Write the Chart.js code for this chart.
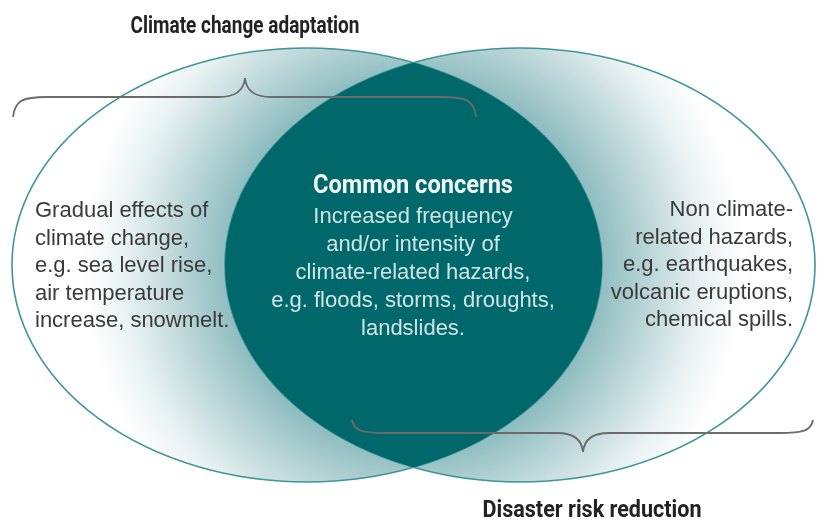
<!DOCTYPE html>
<html lang="en">
<head>
    <meta charset="UTF-8">
    <title>Climate change adaptation and disaster risk reduction</title>
    <script src="https://cdn.jsdelivr.net/npm/chart.js"></script>
    <style>
        body {
            margin: 0;
            background-color: #ffffff;
        }
        .chart-container {
            position: relative;
            width: 825px;
            height: 521px;
        }
    </style>
</head>
<body>
    <div class="chart-container">
        <canvas id="vennChart"></canvas>
    </div>

    <script>
        // The two sets (ellipses) in plot units: x 0..825, y 0..521 from the top
        const setLabels = ['Climate change adaptation', 'Disaster risk reduction'];
        const setCentreX = [307, 520];
        const setCentreY = [265, 265];
        const setRadiusX = [295, 295];
        const setRadiusY = [217, 217];

        // Texts inside each part of the diagram
        const leftOnlyText = ['Gradual effects of', 'climate change,', 'e.g. sea level rise,', 'air temperature', 'increase, snowmelt.'];
        const rightOnlyText = ['Non climate-', 'related hazards,', 'e.g. earthquakes,', 'volcanic eruptions,', 'chemical spills.'];
        const commonTitle = 'Common concerns';
        const commonText = ['Increased frequency', 'and/or intensity of', 'climate-related hazards,', 'e.g. floods, storms, droughts,', 'landslides.'];

        const bodyFont = '22px "Liberation Sans", Arial, sans-serif';
        const headFont = 'bold 23px Roboto, "Liberation Sans", sans-serif';

        // Curly brace, d = direction of the tip (-1 up, +1 down, in pixels)
        function drawBrace(ctx, x0, x1, tipX, yLine, endH, tipH, d) {
            const yEnd = yLine - d * endH;
            const yTip = yLine + d * tipH;
            ctx.beginPath();
            ctx.moveTo(x0, yEnd);
            ctx.bezierCurveTo(x0 + 2, yLine - d * endH * 0.15, x0 + 10, yLine, x0 + 34, yLine);
            ctx.lineTo(tipX - 26, yLine);
            ctx.bezierCurveTo(tipX - 8, yLine, tipX - 1, yLine + d * tipH * 0.45, tipX, yTip);
            ctx.bezierCurveTo(tipX + 1, yLine + d * tipH * 0.45, tipX + 8, yLine, tipX + 26, yLine);
            ctx.lineTo(x1 - 34, yLine);
            ctx.bezierCurveTo(x1 - 10, yLine, x1 - 2, yLine - d * endH * 0.15, x1, yEnd);
            ctx.stroke();
        }

        const vennPlugin = {
            id: 'venn',
            beforeDatasetsDraw(chart) {
                const ctx = chart.ctx;
                const xs = chart.scales.x;
                const ys = chart.scales.y;
                const px = v => xs.getPixelForValue(v);
                const py = v => ys.getPixelForValue(v);

                function ellipsePath(i) {
                    const cx = px(setCentreX[i]);
                    const cy = py(setCentreY[i]);
                    const rx = Math.abs(px(setCentreX[i] + setRadiusX[i]) - cx);
                    const ry = Math.abs(py(setCentreY[i] + setRadiusY[i]) - cy);
                    ctx.beginPath();
                    ctx.ellipse(cx, cy, rx, ry, 0, 0, Math.PI * 2);
                }

                // shading that fades out from the overlap
                const mx = (px(setCentreX[0]) + px(setCentreX[1])) / 2;
                const my = (py(setCentreY[0]) + py(setCentreY[1])) / 2;
                const grad = ctx.createRadialGradient(mx, my, 0, mx, my, 340);
                grad.addColorStop(0, '#86b7ba');
                grad.addColorStop(0.55, '#8fbdc0');
                grad.addColorStop(0.7, '#bdd7d9');
                grad.addColorStop(0.85, '#e9f2f2');
                grad.addColorStop(0.97, '#ffffff');
                grad.addColorStop(1, '#ffffff');

                ctx.save();
                ctx.fillStyle = grad;
                ellipsePath(0); ctx.fill();
                ellipsePath(1); ctx.fill();

                ctx.strokeStyle = '#3f9598';
                ctx.lineWidth = 1.6;
                ellipsePath(0); ctx.stroke();
                ellipsePath(1); ctx.stroke();

                // the overlap
                ellipsePath(0);
                ctx.clip();
                ellipsePath(1);
                ctx.fillStyle = '#00686a';
                ctx.fill();
                ctx.restore();

                // braces
                ctx.save();
                ctx.strokeStyle = '#6b6b6b';
                ctx.lineWidth = 1.8;
                drawBrace(ctx, px(13), px(476), px(245), py(97), 20, 19, -1);
                drawBrace(ctx, px(352), px(813), px(583), py(433), 13, 19, 1);
                ctx.restore();
            },
            afterDatasetsDraw(chart) {
                const ctx = chart.ctx;
                const px = v => chart.scales.x.getPixelForValue(v);
                const py = v => chart.scales.y.getPixelForValue(v);
                ctx.save();
                ctx.textBaseline = 'alphabetic';

                // set titles
                ctx.fillStyle = '#222222';
                ctx.font = headFont;
                ctx.textAlign = 'center';
                ctx.fillText(setLabels[0], px(245), py(33), 229);
                ctx.fillText(setLabels[1], px(592), py(517), 219);

                // left only
                ctx.fillStyle = '#3a3a3a';
                ctx.font = bodyFont;
                ctx.textAlign = 'left';
                leftOnlyText.forEach((t, i) => ctx.fillText(t, px(35), py(217 + i * 27.5)));

                // right only
                ctx.textAlign = 'right';
                rightOnlyText.forEach((t, i) => ctx.fillText(t, px(793), py(216 + i * 27.5)));

                // overlap
                ctx.textAlign = 'center';
                ctx.fillStyle = '#f2f8f8';
                ctx.font = 'bold 26px Roboto, "Liberation Sans", sans-serif';
                ctx.fillText(commonTitle, px(413), py(193), 200);
                ctx.fillStyle = '#cfe5e5';
                ctx.font = bodyFont;
                commonText.forEach((t, i) => ctx.fillText(t, px(413), py(223 + i * 28)));
                ctx.restore();
            }
        };

        const ctx = document.getElementById('vennChart').getContext('2d');
        const vennChart = new Chart(ctx, {
            type: 'scatter',
            data: {
                datasets: [{
                    label: 'Sets',
                    data: setCentreX.map((x, i) => ({ x: x, y: setCentreY[i] })),
                    pointRadius: 0
                }]
            },
            options: {
                responsive: true,
                maintainAspectRatio: false,
                animation: false,
                events: [],
                layout: { padding: 0 },
                plugins: {
                    legend: { display: false },
                    tooltip: { enabled: false }
                },
                scales: {
                    x: { type: 'linear', min: 0, max: 825, display: false },
                    y: { type: 'linear', min: 0, max: 521, reverse: true, display: false }
                }
            },
            plugins: [vennPlugin]
        });
    </script>
</body>
</html>
